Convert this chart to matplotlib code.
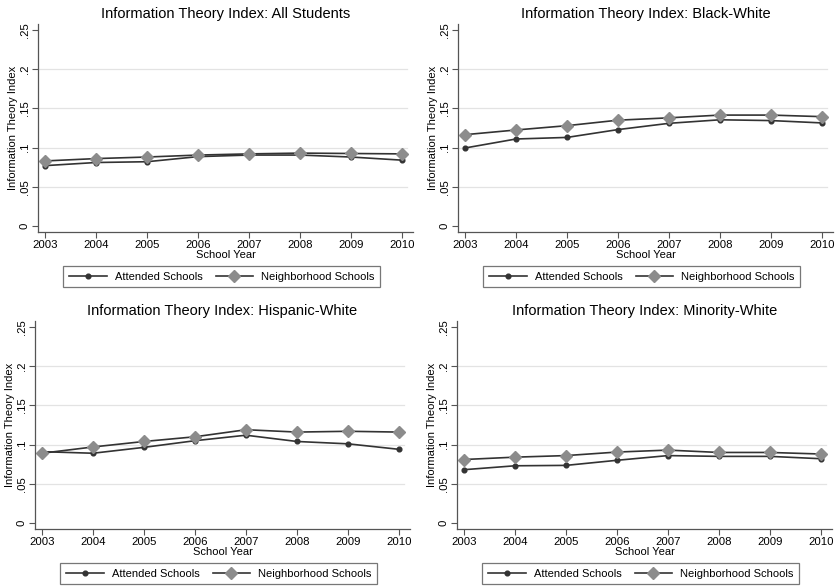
import numpy as np
import matplotlib
matplotlib.use("Agg")
import matplotlib.pyplot as plt

plt.rcParams['font.family'] = ['Liberation Sans', 'DejaVu Sans']

years = [2003, 2004, 2005, 2006, 2007, 2008, 2009, 2010]

titles = [
    "Information Theory Index: All Students",
    "Information Theory Index: Black-White",
    "Information Theory Index: Hispanic-White",
    "Information Theory Index: Minority-White",
]

# attended vs neighborhood school index, one pair per group
all_attended = [0.077, 0.081, 0.082, 0.0885, 0.0905, 0.0905, 0.088, 0.084]
all_neighborhood = [0.083, 0.086, 0.088, 0.0905, 0.092, 0.093, 0.0925, 0.092]

bw_attended = [0.0995, 0.111, 0.113, 0.123, 0.131, 0.1355, 0.1345, 0.1315]
bw_neighborhood = [0.1165, 0.1225, 0.128, 0.135, 0.138, 0.1415, 0.1415, 0.1395]

hw_attended = [0.091, 0.089, 0.0965, 0.105, 0.112, 0.104, 0.101, 0.094]
hw_neighborhood = [0.089, 0.097, 0.104, 0.110, 0.119, 0.116, 0.117, 0.116]

mw_attended = [0.068, 0.073, 0.0735, 0.080, 0.086, 0.085, 0.085, 0.082]
mw_neighborhood = [0.081, 0.084, 0.086, 0.0905, 0.093, 0.090, 0.090, 0.088]

attended = [all_attended, bw_attended, hw_attended, mw_attended]
neighborhood = [all_neighborhood, bw_neighborhood, hw_neighborhood, mw_neighborhood]

yticks = [0, 0.05, 0.1, 0.15, 0.2, 0.25]
ytick_labels = ["0", ".05", ".1", ".15", ".2", ".25"]

W, H = 840, 588
fig = plt.figure(figsize=(W / 100, H / 100), dpi=100)

# panel boxes in pixels: left, top, width, height
boxes = [(38, 24, 375, 208), (458, 24, 375, 208),
         (35, 321, 375, 208), (457, 321, 375, 208)]

line_col = "#333333"
spine_col = "#555555"

for i, (l, t, w, h) in enumerate(boxes):
    ax = fig.add_axes([l / W, 1 - (t + h) / H, w / W, h / H])
    ax.plot(years, attended[i], color=line_col, lw=1.2, marker="o",
            ms=3.4, mfc=line_col, mec=line_col, label="Attended Schools", zorder=3)
    ax.plot(years, neighborhood[i], color=line_col, lw=1.2, marker="D",
            ms=5.8, mfc="#8c8c8c", mec="#8c8c8c", label="Neighborhood Schools", zorder=3)

    ax.set_xlim(2002.863, 2010.216)
    ax.set_ylim(-0.00765, 0.2577)
    ax.set_xticks(years)
    ax.set_xticklabels([str(y) for y in years], fontsize=8.2)
    ax.set_yticks(yticks)
    ax.set_yticklabels(ytick_labels, fontsize=8.2, rotation=90, va="center")

    for g in yticks[1:-1]:
        ax.axhline(g, xmin=0, xmax=0.985, color="#e3e3e3", lw=0.9, zorder=1)

    for s in ["top", "right"]:
        ax.spines[s].set_visible(False)
    for s in ["left", "bottom"]:
        ax.spines[s].set_color(spine_col)
        ax.spines[s].set_linewidth(0.9)
    ax.tick_params(colors=spine_col, labelcolor="black", length=4, width=0.8, pad=2)

    ax.set_title(titles[i], fontsize=10.5, pad=4)
    ax.set_xlabel("School Year", fontsize=8, labelpad=0)
    ax.set_ylabel("Information Theory Index", fontsize=8, labelpad=1.5)

    leg = ax.legend(loc="center", bbox_to_anchor=(0.49, -0.215), ncol=2,
                    fontsize=8, frameon=True, fancybox=False, handlelength=3.4,
                    columnspacing=1.2, handletextpad=0.7, borderpad=0.5,
                    borderaxespad=0, edgecolor="#555555")
    leg.get_frame().set_linewidth(0.9)

fig.savefig("out.png", dpi=100, facecolor="white")
